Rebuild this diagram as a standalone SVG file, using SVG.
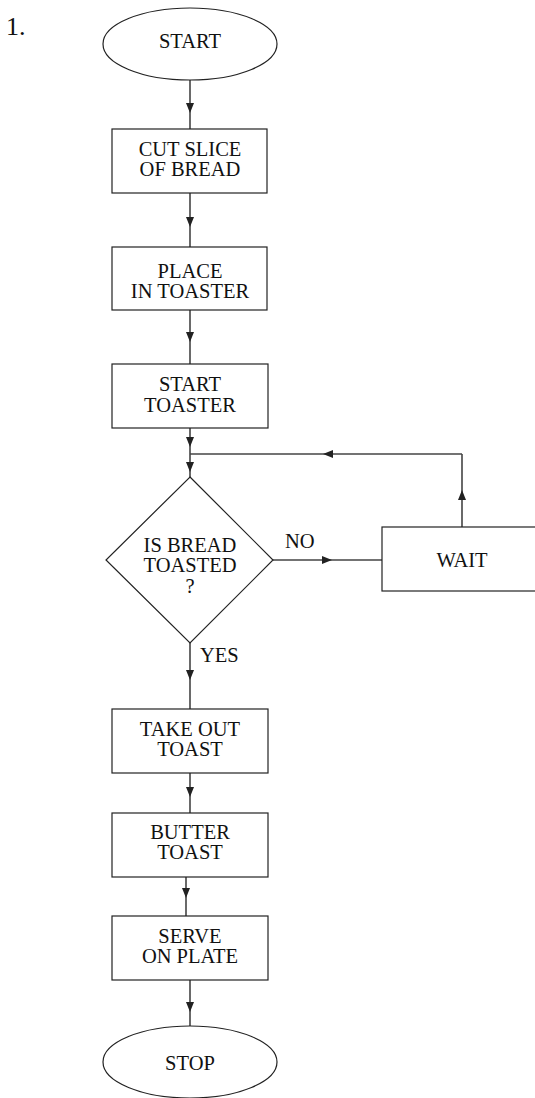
<svg xmlns="http://www.w3.org/2000/svg" width="535" height="1098" viewBox="0 0 535 1098">
  <style>
    .shape { fill: #fff; stroke: #222; stroke-width: 1.2; }
    .conn { fill: none; stroke: #444; stroke-width: 1.6; marker-mid: url(#arrow); }
    .label { font-family: "Liberation Serif", "Times New Roman", serif; font-size: 20.5px; fill: #111; text-anchor: middle; }
    .side { font-family: "Liberation Serif", "Times New Roman", serif; font-size: 20.5px; fill: #111; }
  </style>
  <defs>
    <marker id="arrow" viewBox="0 0 10 8" refX="10" refY="4" markerWidth="10" markerHeight="8" markerUnits="userSpaceOnUse" orient="auto">
      <path d="M0,0 L10,4 L0,8 Z" fill="#222"/>
    </marker>
  </defs>

  <rect width="535" height="1098" fill="#fff"/>

  <text x="6" y="35" font-family="Liberation Serif, serif" font-size="26" fill="#111">1.</text>

  <!-- connectors: each path passes through the arrow tip so the head sits mid-segment -->
  <g id="connectors">
    <path class="conn" d="M190,80 L190,113 L190,129"/>
    <path class="conn" d="M190,193 L190,227 L190,247"/>
    <path class="conn" d="M190,310 L190,342 L190,364"/>
    <path class="conn" d="M190,428 L190,447 L190,454"/>
    <path class="conn" d="M190,454 L190,472 L190,477"/>
    <path class="conn" d="M273,560 L332,560 L382,560"/>
    <path class="conn" d="M462,527 L462,490 L462,454"/>
    <path class="conn" d="M462,454 L323,454 L190,454"/>
    <path class="conn" d="M190,643 L190,680 L190,709"/>
    <path class="conn" d="M190,773 L190,797 L190,813"/>
    <path class="conn" d="M186,877 L186,898 L186,916"/>
    <path class="conn" d="M190,980 L190,1012 L190,1026"/>
    <text class="side" x="285" y="548">NO</text>
    <text class="side" x="200" y="662">YES</text>
  </g>

  <g id="start">
    <ellipse class="shape" cx="190" cy="44" rx="87" ry="36"/>
    <text class="label" x="190" y="48">START</text>
  </g>

  <g id="cut-slice">
    <rect class="shape" x="112" y="129" width="155" height="64"/>
    <text class="label" x="190" y="156">CUT SLICE</text>
    <text class="label" x="190" y="176">OF BREAD</text>
  </g>

  <g id="place-in-toaster">
    <rect class="shape" x="112" y="247" width="155" height="63"/>
    <text class="label" x="190" y="278">PLACE</text>
    <text class="label" x="190" y="298">IN TOASTER</text>
  </g>

  <g id="start-toaster">
    <rect class="shape" x="112" y="364" width="156" height="64"/>
    <text class="label" x="190" y="391">START</text>
    <text class="label" x="190" y="412">TOASTER</text>
  </g>

  <g id="is-toasted">
    <polygon class="shape" points="190,477 273,560 190,643 106,560"/>
    <text class="label" x="190" y="552">IS BREAD</text>
    <text class="label" x="190" y="572">TOASTED</text>
    <text class="label" x="190" y="593">?</text>
  </g>

  <g id="wait">
    <rect class="shape" x="382" y="527" width="160" height="64"/>
    <text class="label" x="462" y="567">WAIT</text>
  </g>

  <g id="take-out">
    <rect class="shape" x="112" y="709" width="156" height="64"/>
    <text class="label" x="190" y="736">TAKE OUT</text>
    <text class="label" x="190" y="756">TOAST</text>
  </g>

  <g id="butter">
    <rect class="shape" x="112" y="813" width="156" height="64"/>
    <text class="label" x="190" y="839">BUTTER</text>
    <text class="label" x="190" y="859">TOAST</text>
  </g>

  <g id="serve">
    <rect class="shape" x="112" y="916" width="156" height="64"/>
    <text class="label" x="190" y="943">SERVE</text>
    <text class="label" x="190" y="963">ON PLATE</text>
  </g>

  <g id="stop">
    <ellipse class="shape" cx="190" cy="1062" rx="87" ry="36"/>
    <text class="label" x="190" y="1070">STOP</text>
  </g>
</svg>
